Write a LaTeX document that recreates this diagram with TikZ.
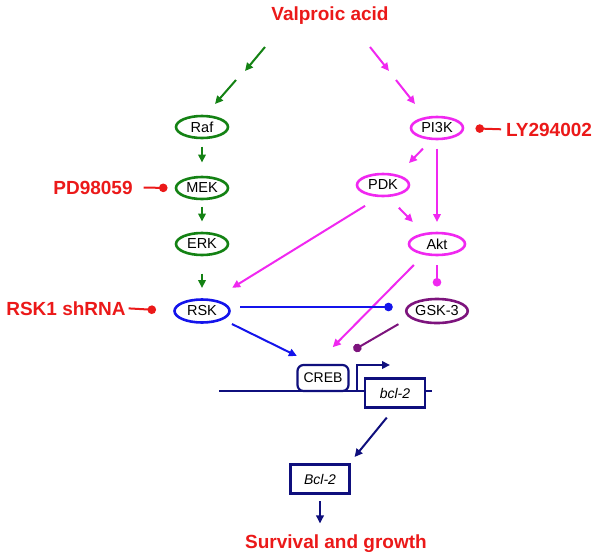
\documentclass[tikz,border=0pt]{standalone}
\usepackage{fontspec}
\setmainfont{Liberation Sans}
\usetikzlibrary{shapes.geometric,arrows.meta}

\definecolor{kgreen}{RGB}{20,130,20}
\definecolor{kmagenta}{RGB}{240,40,240}
\definecolor{kblue}{RGB}{20,20,235}
\definecolor{kpurple}{RGB}{125,20,125}
\definecolor{knavy}{RGB}{15,15,125}
\definecolor{kred}{RGB}{235,25,25}

\begin{document}
\begin{tikzpicture}[x=1pt,y=-1pt,
  protein/.style={ellipse,draw=#1,line width=2.6pt,minimum width=52pt,minimum height=22pt,inner sep=0pt,outer sep=0pt,font=\fontsize{14.5}{16}\selectfont},
  gene/.style={rectangle,draw=knavy,fill=white,line width=2.2pt,minimum width=60pt,minimum height=29pt,inner sep=0pt,outer sep=0pt,font=\fontsize{14}{16}\selectfont\itshape},
  drug/.style={text=kred,inner sep=0pt,outer sep=0pt,anchor=base,font=\fontsize{19}{22}\selectfont\bfseries},
  act/.style={draw=#1,line width=2pt,-{Triangle[length=8pt,width=7.5pt]}},
  inh/.style={draw=#1,line width=2pt,-{Circle[length=8.5pt]}}]
\useasboundingbox (0,0) rectangle (600,558);
% Coordinates
\coordinate (vg1) at (265,47);
\coordinate (vg2) at (245,71);
\coordinate (vg3) at (236,80);
\coordinate (vg4) at (215,104);
\coordinate (vm1) at (370,47);
\coordinate (vm2) at (389,71);
\coordinate (vm3) at (396,80);
\coordinate (vm4) at (415,104);
\coordinate (dnaleft) at (219,391);
\coordinate (dnaright) at (432,391);
\coordinate (tss) at (357,391);
\coordinate (tssend) at (390,365);
% DNA strand
\draw[knavy,line width=2pt] (dnaleft) -- (dnaright);
% Proteins and genes
\node[protein=kgreen] (raf) at (202,127) {Raf};
\node[protein=kgreen] (mek) at (202,188) {MEK};
\node[protein=kgreen] (erk) at (202,244) {ERK};
\node[protein=kblue,minimum width=55pt,minimum height=23pt] (rsk) at (202,311) {RSK};
\node[protein=kmagenta] (pik) at (437,128) {PI3K};
\node[protein=kmagenta] (pdk) at (383,185) {PDK};
\node[protein=kmagenta,minimum width=56pt] (akt) at (437,244) {Akt};
\node[protein=kpurple,minimum width=60pt,minimum height=24pt] (gsk) at (437,311) {GSK-3};
\node[gene,rounded corners=6pt,font=\fontsize{14}{16}\selectfont,minimum width=51pt,minimum height=26pt] (creb) at (323,378) {CREB};
\node[gene] (bcl) at (395,393) {bcl-2};
\node[gene,minimum width=59pt] (bclprot) at (320,479) {Bcl-2};
% Drugs and outcome
\node[drug] (valproic) at (330,20) {Valproic acid};
\node[drug] (pd) at (93,194) {PD98059};
\node[drug] (shrna) at (66,315) {RSK1 shRNA};
\node[drug] (ly) at (549,136) {LY294002};
\node[drug] (survival) at (336,548) {Survival and growth};
% Valproic acid branches
\draw[act=kgreen] (vg1) -- (vg2);
\draw[act=kgreen] (vg3) -- (vg4);
\draw[act=kmagenta] (vm1) -- (vm2);
\draw[act=kmagenta] (vm3) -- (vm4);
% ERK pathway
\draw[act=kgreen,shorten <=8.5pt,shorten >=14.5pt] (raf) -- (mek);
\draw[act=kgreen,shorten <=7.5pt,shorten >=11.5pt] (mek) -- (erk);
\draw[act=kgreen,shorten <=18.5pt,shorten >=11.5pt] (erk) -- (rsk);
% PI3K pathway
\draw[act=kmagenta,shorten <=13.6pt,shorten >=17.5pt] (pik.-113) -- (pdk.34);
\draw[act=kmagenta,shorten <=9.5pt,shorten >=11pt] (pik) -- (akt);
\draw[act=kmagenta,shorten <=16.6pt,shorten >=17pt] (pdk.-69) -- (akt.141);
\draw[act=kmagenta,shorten <=18.8pt,shorten >=23.7pt] (pdk.-100) -- (rsk.47);
\draw[act=kmagenta,shorten <=15.5pt,shorten >=25pt] (akt.219) -- (creb.121);
\draw[inh=kmagenta,shorten <=10pt,shorten >=12.5pt] (akt) -- (gsk);
% RSK and GSK-3 to CREB
\draw[act=kblue,shorten <=11.3pt,shorten >=20.4pt] (rsk.-22) -- (creb.121);
\draw[inh=kblue,shorten <=10.5pt,shorten >=13.5pt] ([yshift=4pt]rsk.east) -- ([yshift=4pt]gsk.west);
\draw[inh=kpurple,shorten <=14pt,shorten >=29.7pt] (gsk.193) -- (creb.69);
% Inhibitors
\draw[inh=kred,shorten <=11pt,shorten >=8.5pt] (pd.east) -- (mek.west);
\draw[inh=kred,shorten <=3pt,shorten >=18.5pt] (shrna.east) -- (rsk.west);
\draw[inh=kred,shorten <=5pt,shorten >=12.5pt] (ly.west) -- (pik.east);
% Transcription and output
\draw[act=knavy] (tss) |- (tssend);
\draw[act=knavy,shorten <=13pt,shorten >=9.7pt] (bcl.south) -- (bclprot.27.5);
\draw[act=knavy,shorten <=7.5pt,shorten >=10.8pt] (bclprot.south) -- (bclprot.south |- survival.north);
\end{tikzpicture}
\end{document}
